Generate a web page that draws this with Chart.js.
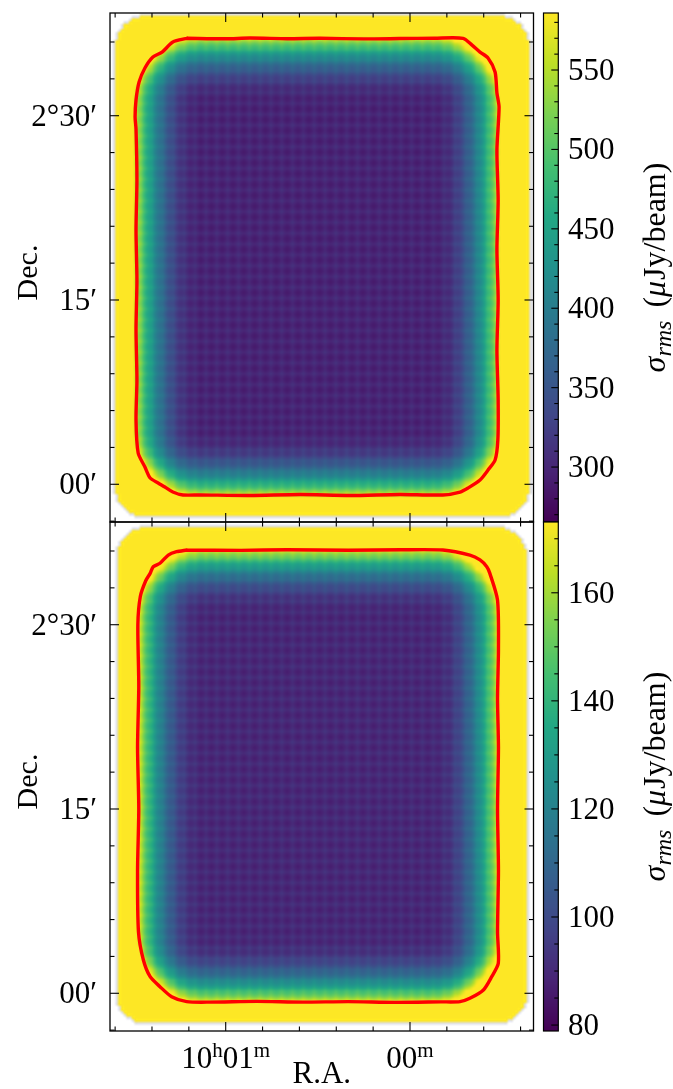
<!DOCTYPE html>
<html>
<head>
<meta charset="utf-8">
<script src="https://cdn.jsdelivr.net/npm/chart.js@4.4.0/dist/chart.umd.min.js"></script>
<style>
  html, body { margin: 0; padding: 0; background: #fff; }
  #wrap { position: relative; width: 673px; height: 1089px; overflow: hidden; }
  #wrap canvas { position: absolute; left: 0; }
</style>
</head>
<body>
<div id="wrap">
  <canvas id="mapTop" width="673" height="545" style="top:0px"></canvas>
  <canvas id="mapBottom" width="673" height="580" style="top:509px"></canvas>
</div>
<script>
"use strict";

// RA in seconds of time after 10h00m (east to the left), Dec in arcmin after +2°00′
const raLimits = [97.67, -40.21];
const decLimits = [-3.07, 38.36];
const raMajorTicks = [60, 0];
const raMajorLabels = [["10", "h", "01", "m"], ["00", "m"]];
const raMinorStep = 12;
const decMajorTicks = [0, 15, 30];
const decMajorLabels = ["00′", "15′", "2°30′"];
const decMinorStep = 3;

// colour bars (µJy/beam)
const sigmaRangeTop = [265.4, 585.9];
const sigmaTicksTop = [300, 350, 400, 450, 500, 550];
const sigmaMinorTop = 10;
const sigmaRangeBottom = [78.9, 173.1];
const sigmaTicksBottom = [80, 100, 120, 140, 160];
const sigmaMinorBottom = 5;

// noise floor in the flat part of each mosaic
const sigmaFloorTop = 288;
const sigmaFloorBottom = 86.5;

// sigma / floor against distance inside the field edge, 0.22′ per entry, starting 0.66′ outside
const edgeProfile = [2.35, 2.2, 2.05, 1.92, 1.83, 1.75, 1.67, 1.60, 1.53, 1.47, 1.41, 1.36, 1.31,
                     1.27, 1.23, 1.19, 1.16, 1.13, 1.10, 1.08, 1.06, 1.045, 1.033, 1.023, 1.015,
                     1.009, 1.004, 1.0];
// pointing-grid ripple (fraction of the floor), 0.22′ per entry (one period = 0.88′)
const rippleProfile = [0.0, 0.015, 0.04, 0.015];

// mosaic footprint (where the map has data): [east RA, west RA], [south Dec, north Dec]
const footprintRATop = [95.71, -38.6];
const footprintDecTop = [-2.66, 38.07];
const footprintRABottom = [95.39, -38.0];
const footprintDecBottom = [-2.40, 37.87];
const footprintCorner = 2.4;   // arcmin

// field edge where the noise starts to rise
const edgeRATop = [88.9, -28.5];
const edgeDecTop = [-0.87, 36.3];
const edgeRABottom = [88.5, -28.7];
const edgeDecBottom = [-0.70, 36.08];

// 2x-floor contours
const contourRATop = [72.6, 60, 52.1, 40, 29.3, 15, 3.3, -8, -17.3, -20.2, -22.8, -25.4, -27.7, -28.3,
  -29.0, -28.3, -28.7, -28.3, -28.7, -28.3, -28.7, -28.6, -27.7, -25.4, -22.8, -18.9, -16.3, -10.7,
  3.3, 19.5, 35.8, 52.1, 68.4, 73.9, 77.2, 79.8, 82.0, 84.6, 86.3, 88.5, 89.2, 88.9, 89.2, 88.9,
  89.2, 88.9, 89.2, 89.5, 89.2, 88.2, 86.3, 83.7, 80.7, 77.2, 72.6];
const contourDecTop = [36.30, 36.26, 36.32, 36.27, 36.30, 36.25, 36.28, 36.31, 36.30, 35.75, 35.18,
  34.70, 33.56, 31.85, 30.71, 27.2, 23.1, 19.1, 15.0, 10.9, 6.9, 3.6, 1.98, 1.16, 0.35, -0.30, -0.63,
  -0.87, -0.83, -0.91, -0.83, -0.91, -0.87, -0.87, -0.63, -0.22, 0.11, 0.51, 1.41, 2.55, 5.23, 8.5,
  12.6, 16.6, 20.7, 24.8, 28.9, 29.9, 31.28, 32.74, 33.88, 34.78, 35.18, 36.00, 36.30];
const contourRABottom = [72.7, 55, 40, 20, 3, -10.7, -19.5, -22.8, -25.0, -26.0, -28.5, -28.8, -28.5,
  -28.8, -28.5, -28.8, -28.5, -28.75, -26.6, -23.9, -19.5, -16.3, -10, 5, 20, 35, 50, 65, 72.7, 77.6,
  81.4, 84.6, 86.8, 88.4, 88.7, 88.3, 88.7, 88.3, 88.6, 87.8, 86.0, 84.6, 83.6, 81.4, 78.7, 76.0, 72.7];
const contourDecBottom = [36.08, 36.05, 36.10, 36.06, 36.10, 36.08, 35.67, 35.27, 34.72, 34.18, 32.0,
  28.0, 24.0, 20.0, 15.0, 10.0, 5.0, 2.44, 1.35, 0.27, -0.41, -0.68, -0.70, -0.74, -0.68, -0.72, -0.66,
  -0.72, -0.68, -0.28, 0.54, 1.35, 2.71, 5.0, 10.0, 15.0, 20.0, 25.0, 30.0, 32.3, 33.6, 34.18, 34.72,
  35.00, 35.67, 35.94, 36.08];

const viridisStops = ["#440154", "#482475", "#414487", "#355f8d", "#2a788e", "#21918c",
                      "#22a884", "#44bf70", "#7ad151", "#bddf26", "#fde725"];

const FONT = "'Liberation Serif', 'DejaVu Serif', serif";
const CELL = 0.22;                                        // map cell, arcmin
const RA_ARCMIN = 0.25 * Math.cos(2.3 * Math.PI / 180);   // arcmin per second of RA
const CBAR_LEFT = 543.5, CBAR_RIGHT = 558.3;

const viridisRGB = viridisStops.map(h => [1, 3, 5].map(k => parseInt(h.substr(k, 2), 16)));

function viridis(t) {
  t = Math.min(1, Math.max(0, t));
  const p = t * (viridisRGB.length - 1);
  const k = Math.min(Math.floor(p), viridisRGB.length - 2);
  const f = p - k, a = viridisRGB[k], b = viridisRGB[k + 1];
  return [0, 1, 2].map(c => a[c] + (b[c] - a[c]) * f);
}

function edgeGain(u) {
  let k = Math.round(u / CELL) + 3;
  k = Math.max(0, Math.min(edgeProfile.length - 1, k));
  return edgeProfile[k];
}

// sigma on a regular RA/Dec grid, NaN outside the footprint
function buildField(p) {
  const dRA = CELL / RA_ARCMIN, dDec = CELL;
  const ra0 = raLimits[0], dec0 = decLimits[1];
  const nx = Math.floor((raLimits[0] - raLimits[1]) / dRA);
  const ny = Math.floor((decLimits[1] - decLimits[0]) / dDec);
  const vals = new Float32Array(nx * ny);
  const fx1 = p.footRA[1] * RA_ARCMIN, fx2 = p.footRA[0] * RA_ARCMIN;
  const fy1 = p.footDec[0], fy2 = p.footDec[1];
  const cx1 = p.edgeRA[1] * RA_ARCMIN, cx2 = p.edgeRA[0] * RA_ARCMIN;
  const cy1 = p.edgeDec[0], cy2 = p.edgeDec[1];
  const r = footprintCorner;
  for (let j = 0; j < ny; j++) {
    const dec = dec0 - (j + 0.5) * dDec;
    for (let i = 0; i < nx; i++) {
      const xa = (ra0 - (i + 0.5) * dRA) * RA_ARCMIN;
      const ox = Math.max(fx1 + r - xa, 0, xa - (fx2 - r));
      const oy = Math.max(fy1 + r - dec, 0, dec - (fy2 - r));
      if (ox * ox + oy * oy > r * r) { vals[j * nx + i] = NaN; continue; }
      const gx = edgeGain(Math.min(xa - cx1, cx2 - xa));
      const gy = edgeGain(Math.min(dec - cy1, cy2 - dec));
      const wobble = rippleProfile[(i + 3) % 4] + rippleProfile[(j + 1) % 4];
      vals[j * nx + i] = p.floor * (gx * gy + wobble);
    }
  }
  // paint it into a small bitmap, one pixel per cell
  const img = document.createElement("canvas");
  img.width = nx; img.height = ny;
  const ictx = img.getContext("2d");
  const data = ictx.createImageData(nx, ny);
  const [lo, hi] = p.range;
  for (let j = 0; j < ny; j++) {
    for (let i = 0; i < nx; i++) {
      const k = j * nx + i, v = vals[k], o = k * 4;
      if (isNaN(v)) {
        const near = [[1, 0], [-1, 0], [0, 1], [0, -1]].some(([a, b]) => {
          const ii = i + a, jj = j + b;
          return ii >= 0 && jj >= 0 && ii < nx && jj < ny && !isNaN(vals[jj * nx + ii]);
        });
        if (near) { data.data[o] = 190; data.data[o + 1] = 190; data.data[o + 2] = 190; data.data[o + 3] = 120; }
        continue;
      }
      const c = viridis((v - lo) / (hi - lo));
      data.data[o] = c[0]; data.data[o + 1] = c[1]; data.data[o + 2] = c[2]; data.data[o + 3] = 255;
    }
  }
  ictx.putImageData(data, 0, 0);
  return { img, nx, ny, ra0, dec0, dRA, dDec };
}

function stepTicks(lo, hi, step, skip) {
  const out = [];
  for (let v = Math.ceil(lo / step) * step; v <= hi + 1e-9; v += step) {
    if (!skip.some(s => Math.abs(s - v) < 1e-6)) out.push(v);
  }
  return out;
}

function line(ctx, x1, y1, x2, y2) {
  ctx.beginPath(); ctx.moveTo(x1, y1); ctx.lineTo(x2, y2); ctx.stroke();
}

// rotated text reading bottom to top, baseline at x
function drawRotated(ctx, parts, x, cy) {
  let total = 0;
  parts.forEach(pt => { ctx.font = pt.font; pt.w = ctx.measureText(pt.text).width; total += pt.w + (pt.gap || 0); });
  ctx.save();
  ctx.translate(x, cy);
  ctx.rotate(-Math.PI / 2);
  ctx.textAlign = "left"; ctx.textBaseline = "alphabetic";
  let pos = -total / 2;
  parts.forEach(pt => {
    ctx.font = pt.font;
    ctx.fillText(pt.text, pos, pt.dy || 0);
    pos += pt.w + (pt.gap || 0);
  });
  ctx.restore();
}

function makePanelPlugin(p) {
  return {
    id: "sigmaPanel",
    beforeDatasetsDraw(chart) {
      const { ctx, chartArea: a, scales: { x, y } } = chart;
      const f = p.field;
      const left = x.getPixelForValue(f.ra0);
      const right = x.getPixelForValue(f.ra0 - f.nx * f.dRA);
      const top = y.getPixelForValue(f.dec0);
      const bottom = y.getPixelForValue(f.dec0 - f.ny * f.dDec);
      ctx.save();
      ctx.beginPath(); ctx.rect(a.left, a.top, a.width, a.height); ctx.clip();
      ctx.imageSmoothingEnabled = true;
      ctx.imageSmoothingQuality = "high";
      ctx.drawImage(f.img, left, top, right - left, bottom - top);
      ctx.restore();
    },
    afterDraw(chart) {
      const { ctx, chartArea: a, scales: { x, y, c } } = chart;
      ctx.save();
      ctx.strokeStyle = "#000";
      ctx.fillStyle = "#000";

      // frame and inward ticks
      ctx.lineWidth = 1.3;
      ctx.strokeRect(a.left, a.top, a.width, a.height);
      ctx.lineWidth = 1.1;
      raMajorTicks.forEach(v => {
        const px = x.getPixelForValue(v);
        line(ctx, px, a.bottom, px, a.bottom - 9); line(ctx, px, a.top, px, a.top + 9);
      });
      stepTicks(raLimits[1], raLimits[0], raMinorStep, raMajorTicks).forEach(v => {
        const px = x.getPixelForValue(v);
        line(ctx, px, a.bottom, px, a.bottom - 4.5); line(ctx, px, a.top, px, a.top + 4.5);
      });
      decMajorTicks.forEach(v => {
        const py = y.getPixelForValue(v);
        line(ctx, a.left, py, a.left + 9, py); line(ctx, a.right, py, a.right - 9, py);
      });
      stepTicks(decLimits[0], decLimits[1], decMinorStep, decMajorTicks).forEach(v => {
        const py = y.getPixelForValue(v);
        line(ctx, a.left, py, a.left + 4.5, py); line(ctx, a.right, py, a.right - 4.5, py);
      });

      // Dec tick labels and axis name
      ctx.font = "31px " + FONT;
      ctx.textAlign = "right"; ctx.textBaseline = "alphabetic";
      decMajorTicks.forEach((v, i) => {
        ctx.fillText(decMajorLabels[i], a.left - 13, y.getPixelForValue(v) + 10);
      });
      drawRotated(ctx, [{ text: "Dec.", font: "30px " + FONT }], 37, (a.top + a.bottom) / 2 + 5);

      // RA tick labels with superscript units, only under the lower panel
      if (p.raLabels) {
        const base = a.bottom + 37;
        raMajorTicks.forEach((v, i) => {
          const parts = raMajorLabels[i].map((t, k) => ({ text: t, sup: k % 2 === 1 }));
          let total = 0;
          parts.forEach(pt => {
            ctx.font = (pt.sup ? "21px " : "31px ") + FONT;
            pt.w = ctx.measureText(pt.text).width; total += pt.w;
          });
          let pos = x.getPixelForValue(v) - total / 2;
          ctx.textAlign = "left";
          parts.forEach(pt => {
            ctx.font = (pt.sup ? "21px " : "31px ") + FONT;
            ctx.fillText(pt.text, pos, pt.sup ? base - 11 : base);
            pos += pt.w;
          });
        });
        ctx.font = "31px " + FONT;
        ctx.textAlign = "center";
        ctx.fillText("R.A.", (a.left + a.right) / 2, a.bottom + 52);
      }

      // colour bar
      const cTop = c.getPixelForValue(p.range[1]), cBot = c.getPixelForValue(p.range[0]);
      for (let py = Math.floor(cTop); py < cBot; py++) {
        const v = c.getValueForPixel(py + 0.5);
        const col = viridis((v - p.range[0]) / (p.range[1] - p.range[0]));
        ctx.fillStyle = "rgb(" + col.map(Math.round).join(",") + ")";
        ctx.fillRect(CBAR_LEFT, py, CBAR_RIGHT - CBAR_LEFT, 1);
      }
      ctx.fillStyle = "#000";
      ctx.lineWidth = 1.2;
      ctx.strokeRect(CBAR_LEFT, cTop, CBAR_RIGHT - CBAR_LEFT, cBot - cTop);
      ctx.lineWidth = 1.1;
      p.ticks.forEach(v => { const py = c.getPixelForValue(v); line(ctx, CBAR_RIGHT, py, CBAR_RIGHT - 7, py); });
      stepTicks(p.range[0], p.range[1], p.minorStep, p.ticks).forEach(v => {
        const py = c.getPixelForValue(v); line(ctx, CBAR_RIGHT, py, CBAR_RIGHT - 4, py);
      });
      ctx.font = "31px " + FONT;
      ctx.textAlign = "left";
      p.ticks.forEach(v => ctx.fillText(String(v), 568, c.getPixelForValue(v) + 10));

      drawRotated(ctx, [
        { text: "σ", font: "italic 32px " + FONT },
        { text: "rms", font: "italic 24px " + FONT, dy: 6, gap: 13 },
        { text: "(", font: "32px " + FONT },
        { text: "μ", font: "italic 32px " + FONT, gap: 1 },
        { text: "Jy/beam)", font: "32px " + FONT }
      ], 665, (a.top + a.bottom) / 2);
      ctx.restore();
    }
  };
}

const panels = [
  { id: "mapTop", floor: sigmaFloorTop, range: sigmaRangeTop, ticks: sigmaTicksTop, minorStep: sigmaMinorTop,
    footRA: footprintRATop, footDec: footprintDecTop, edgeRA: edgeRATop, edgeDec: edgeDecTop,
    contourRA: contourRATop, contourDec: contourDecTop, raLabels: false },
  { id: "mapBottom", floor: sigmaFloorBottom, range: sigmaRangeBottom, ticks: sigmaTicksBottom, minorStep: sigmaMinorBottom,
    footRA: footprintRABottom, footDec: footprintDecBottom, edgeRA: edgeRABottom, edgeDec: edgeDecBottom,
    contourRA: contourRABottom, contourDec: contourDecBottom, raLabels: true }
];

panels.forEach(p => {
  p.field = buildField(p);
  const canvas = document.getElementById(p.id);
  new Chart(canvas, {
    type: "scatter",
    data: {
      datasets: [{
        data: p.contourRA.map((ra, i) => ({ x: ra, y: p.contourDec[i] })),
        showLine: true,
        borderColor: "#ff0000",
        borderWidth: 3.4,
        borderJoinStyle: "round",
        borderCapStyle: "round",
        pointRadius: 0,
        tension: 0.25,
        fill: false
      }]
    },
    options: {
      responsive: false,
      animation: false,
      devicePixelRatio: 1,
      layout: { padding: { left: 110, right: 673 - 533.5, top: 13, bottom: canvas.height - 522 } },
      plugins: { legend: { display: false }, tooltip: { enabled: false } },
      scales: {
        x: { type: "linear", min: raLimits[1], max: raLimits[0], reverse: true, display: false },
        y: { type: "linear", min: decLimits[0], max: decLimits[1], display: false },
        c: { type: "linear", axis: "y", min: p.range[0], max: p.range[1], display: false }
      }
    },
    plugins: [makePanelPlugin(p)]
  });
});
</script>
</body>
</html>
